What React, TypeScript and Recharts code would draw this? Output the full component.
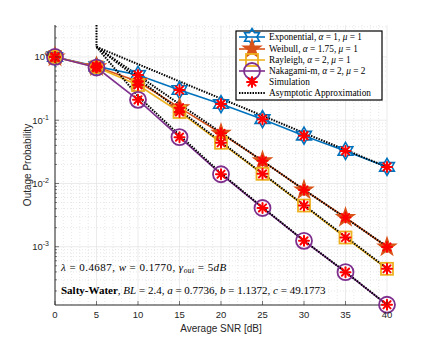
import React from "react"
import { ComposedChart, Line, XAxis, YAxis, CartesianGrid } from "recharts"

// average SNR in dB, one point every 5 dB
const snr = [0, 5, 10, 15, 20, 25, 30, 35, 40]

// analytical outage probability
const exponential = [1, 0.71, 0.52, 0.3, 0.18, 0.104, 0.057, 0.0327, 0.0183]
const weibull = [1, 0.7, 0.41, 0.158, 0.062, 0.0228, 0.0079, 0.0029, 0.00099]
const rayleigh = [1, 0.69, 0.36, 0.135, 0.044, 0.0142, 0.00448, 0.0014, 0.000448]
const nakagami = [1, 0.68, 0.21, 0.054, 0.014, 0.0041, 0.00124, 0.000397, 0.000121]

// monte carlo points sit on the analytical curves
const simExponential = exponential
const simWeibull = weibull
const simRayleigh = rayleigh
const simNakagami = nakagami

// high-SNR asymptotes, starting at 5 dB
const asymSnr = [5, 10, 15, 20, 25, 30, 35, 40]
const asymExponential = [1.44, 0.77, 0.41, 0.22, 0.118, 0.063, 0.034, 0.0182]
const asymWeibull = [1.44, 0.51, 0.18, 0.064, 0.0227, 0.008, 0.00285, 0.00101]
const asymRayleigh = [1.44, 0.455, 0.144, 0.0455, 0.0144, 0.00455, 0.00144, 0.000455]
const asymNakagami = [1.44, 0.24, 0.058, 0.0145, 0.0042, 0.00125, 0.0004, 0.000121]
// below 5 dB the asymptote leaves the plot
const asymEdgeSnr = [5, 5]
const asymEdge = [3.2, 1.44]

const xTicks = [0, 5, 10, 15, 20, 25, 30, 35, 40]
const yTicks = [1e-3, 1e-2, 1e-1, 1]
const yDomain = [1.2e-4, 3.2]

const BLUE = "#0072BD"
const ORANGE = "#D95319"
const YELLOW = "#EDB120"
const PURPLE = "#7E2F8E"
const RED = "#FF0000"
const AXIS = "#262626"

const toRows = (xs: number[], ys: number[]) => xs.map((x, i) => ({ snr: x, p: ys[i] }))

// minor grid / ticks
const xMinor: number[] = []
for (let i = 0; i <= 40; i++) if (i % 5 !== 0) xMinor.push(i)
const yMinor: number[] = []
for (let e = -4; e <= 0; e++) {
  for (let m = 2; m <= 9; m++) {
    const v = m * Math.pow(10, e)
    if (v > yDomain[0] && v < yDomain[1]) yMinor.push(v)
  }
}
const yAllTicks = [...yMinor, ...yTicks].sort((a, b) => a - b)

function starPoints(cx: number, cy: number, n: number, R: number, r: number) {
  const pts: string[] = []
  for (let k = 0; k < n * 2; k++) {
    const rad = k % 2 === 0 ? R : r
    const a = -Math.PI / 2 + (k * Math.PI) / n
    pts.push(`${(cx + rad * Math.cos(a)).toFixed(2)},${(cy + rad * Math.sin(a)).toFixed(2)}`)
  }
  return pts.join(" ")
}

const hexagram = (cx: number, cy: number, key?: any) => (
  <polygon key={key} points={starPoints(cx, cy, 6, 8.5, 4.9)} fill="none" stroke={BLUE} strokeWidth={1.6} />
)
const pentagram = (cx: number, cy: number, key?: any) => (
  <polygon key={key} points={starPoints(cx, cy, 5, 9.5, 3.7)} fill={ORANGE} stroke={ORANGE} strokeWidth={1.2} />
)
const square = (cx: number, cy: number, key?: any) => (
  <rect key={key} x={cx - 6} y={cy - 6} width={12} height={12} fill="none" stroke={YELLOW} strokeWidth={1.8} />
)
const circle = (cx: number, cy: number, key?: any) => (
  <circle key={key} cx={cx} cy={cy} r={8} fill="none" stroke={PURPLE} strokeWidth={1.8} />
)
const asterisk = (cx: number, cy: number, key?: any) => (
  <g key={key} stroke={RED} strokeWidth={2} strokeLinecap="round">
    <line x1={cx - 5} y1={cy} x2={cx + 5} y2={cy} />
    <line x1={cx} y1={cy - 5} x2={cx} y2={cy + 5} />
    <line x1={cx - 3.6} y1={cy - 3.6} x2={cx + 3.6} y2={cy + 3.6} />
    <line x1={cx - 3.6} y1={cy + 3.6} x2={cx + 3.6} y2={cy - 3.6} />
    <circle cx={cx} cy={cy} r={2.2} fill={RED} stroke="none" />
  </g>
)

const dotOf = (draw: (cx: number, cy: number, key?: any) => React.ReactElement) => (props: any) =>
  draw(props.cx, props.cy, `d-${props.index}`)

const supLabel = (v: number) => Math.round(Math.log10(v))

function BottomTick(props: any) {
  const { x, y, payload } = props
  return (
    <g>
      <line x1={x} x2={x} y1={y - 7} y2={y - 11} stroke={AXIS} strokeWidth={0.6} />
      <text x={x} y={y + 5.5} textAnchor="middle" fontSize={9.5} fill={AXIS} fontFamily="Liberation Sans, Arial, sans-serif">
        {payload.value}
      </text>
    </g>
  )
}

function TopTick(props: any) {
  const { x, y } = props
  return <line x1={x} x2={x} y1={y} y2={y + 4} stroke={AXIS} strokeWidth={0.6} />
}

function LeftTick(props: any) {
  const { x, y, payload } = props
  const major = yTicks.some((t) => Math.abs(t - payload.value) / t < 1e-6)
  return (
    <g>
      <line x1={x + 6} x2={x + 6 + (major ? 4 : 2)} y1={y} y2={y} stroke={AXIS} strokeWidth={0.6} />
      {major && (
        <text x={x} y={y + 3.5} textAnchor="end" fontSize={9.5} fill={AXIS} fontFamily="Liberation Sans, Arial, sans-serif">
          <tspan>10</tspan>
          <tspan dy={-4} fontSize={7}>{supLabel(payload.value)}</tspan>
        </text>
      )}
    </g>
  )
}

function RightTick(props: any) {
  const { x, y, payload } = props
  const major = yTicks.some((t) => Math.abs(t - payload.value) / t < 1e-6)
  return <line x1={x} x2={x - (major ? 4 : 2)} y1={y} y2={y} stroke={AXIS} strokeWidth={0.6} />
}

const SERIF = "Liberation Serif, 'Times New Roman', serif"

function Legend() {
  const left = 228
  const top = 23
  const rows = [29, 41, 52, 63, 74, 85]
  const sx1 = 231
  const sx2 = 257
  const mx = 244
  const tx = 261
  const fs = 9.3
  return (
    <g fontFamily={SERIF} fontSize={fs} fill="#000">
      <rect x={left} y={top} width={146} height={69} fill="#fff" stroke="#000" strokeWidth={1.2} />
      <line x1={sx1} x2={sx2} y1={rows[0]} y2={rows[0]} stroke={BLUE} strokeWidth={1.6} />
      {hexagram(mx, rows[0])}
      <line x1={sx1} x2={sx2} y1={rows[1]} y2={rows[1]} stroke={ORANGE} strokeWidth={1.6} />
      {pentagram(mx, rows[1])}
      <line x1={sx1} x2={sx2} y1={rows[2]} y2={rows[2]} stroke={YELLOW} strokeWidth={1.6} />
      {square(mx, rows[2])}
      <line x1={sx1} x2={sx2} y1={rows[3]} y2={rows[3]} stroke={PURPLE} strokeWidth={1.6} />
      {circle(mx, rows[3])}
      {asterisk(mx, rows[4])}
      <line x1={sx1} x2={sx2} y1={rows[5]} y2={rows[5]} stroke="#000" strokeWidth={2} strokeDasharray="1.5 1.2" />

      <text x={tx} y={rows[0] + 3}>
        Exponential, <tspan fontStyle="italic">α</tspan> = 1, <tspan fontStyle="italic">μ</tspan> = 1
      </text>
      <text x={tx} y={rows[1] + 3}>
        Weibull, <tspan fontStyle="italic">α</tspan> = 1.75, <tspan fontStyle="italic">μ</tspan> = 1
      </text>
      <text x={tx} y={rows[2] + 3}>
        Rayleigh, <tspan fontStyle="italic">α</tspan> = 2, <tspan fontStyle="italic">μ</tspan> = 1
      </text>
      <text x={tx} y={rows[3] + 3}>
        Nakagami-m, <tspan fontStyle="italic">α</tspan> = 2, <tspan fontStyle="italic">μ</tspan> = 2
      </text>
      <text x={tx} y={rows[4] + 3}>Simulation</text>
      <text x={tx} y={rows[5] + 3}>Asymptotic Approximation</text>
    </g>
  )
}

function Overlay() {
  return (
    <svg width={420} height={335} style={{ position: "absolute", left: 0, top: 0, pointerEvents: "none" }}>
      <text
        x={23}
        y={157}
        transform="rotate(-90 23 157)"
        textAnchor="middle"
        fontSize={10}
        fill={AXIS}
        fontFamily="Liberation Sans, Arial, sans-serif"
      >
        Outage Probability
      </text>
      <text x={213} y={323.5} textAnchor="middle" fontSize={10} fill={AXIS} fontFamily="Liberation Sans, Arial, sans-serif">
        Average SNR [dB]
      </text>

      <text x={53} y={263} fontFamily={SERIF} fontSize={11} fill="#000" letterSpacing={0.45}>
        <tspan fontStyle="italic">λ</tspan> = 0.4687, <tspan fontStyle="italic">w</tspan> = 0.1770,{" "}
        <tspan fontStyle="italic">γ</tspan>
        <tspan fontStyle="italic" fontSize={7.5} dy={2}>out</tspan>
        <tspan dy={-2}> = 5</tspan>
        <tspan fontStyle="italic">dB</tspan>
      </text>
      <text x={53} y={286} fontFamily={SERIF} fontSize={11} fill="#000">
        <tspan fontWeight="bold">Salty-Water</tspan>, <tspan fontStyle="italic">BL</tspan> = 2.4,{" "}
        <tspan fontStyle="italic">a</tspan> = 0.7736, <tspan fontStyle="italic">b</tspan> = 1.1372,{" "}
        <tspan fontStyle="italic">c</tspan> = 49.1773
      </text>

      <Legend />
    </svg>
  )
}

export default function App() {
  const theory = [
    { rows: toRows(snr, exponential), color: BLUE, marker: hexagram },
    { rows: toRows(snr, weibull), color: ORANGE, marker: pentagram },
    { rows: toRows(snr, rayleigh), color: YELLOW, marker: square },
    { rows: toRows(snr, nakagami), color: PURPLE, marker: circle },
  ]
  const sims = [simExponential, simWeibull, simRayleigh, simNakagami].map((s) => toRows(snr, s))
  const asym = [
    toRows(asymEdgeSnr, asymEdge),
    ...[asymExponential, asymWeibull, asymRayleigh, asymNakagami].map((s) => toRows(asymSnr, s)),
  ]

  return (
    <div style={{ position: "relative", width: 420, height: 335 }}>
      <ComposedChart width={420} height={335} margin={{ top: 17, right: 41, bottom: 0, left: 0 }}>
        <CartesianGrid horizontalValues={yMinor} verticalValues={xMinor} stroke="#d8d8d8" strokeDasharray="1 2" strokeWidth={0.6} />
        <CartesianGrid horizontalValues={yTicks} verticalValues={xTicks} stroke="#e3e3e3" strokeWidth={0.7} />
        <XAxis
          type="number"
          dataKey="snr"
          domain={[0, 40]}
          ticks={xTicks}
          interval={0}
          height={38}
          tickSize={0}
          tickMargin={7}
          tickLine={false}
          stroke={AXIS}
          tick={<BottomTick />}
        />
        <XAxis
          xAxisId="top"
          orientation="top"
          type="number"
          dataKey="snr"
          domain={[0, 40]}
          ticks={xTicks}
          interval={0}
          height={0}
          tickSize={0}
          tickMargin={0}
          tickLine={false}
          stroke={AXIS}
          tick={<TopTick />}
        />
        <YAxis
          scale="log"
          type="number"
          domain={yDomain}
          ticks={yAllTicks}
          interval={0}
          width={47}
          tickSize={0}
          tickMargin={6}
          tickLine={false}
          stroke={AXIS}
          tick={<LeftTick />}
        />
        <YAxis
          yAxisId="right"
          orientation="right"
          scale="log"
          type="number"
          domain={yDomain}
          ticks={yAllTicks}
          interval={0}
          width={0}
          tickSize={0}
          tickMargin={0}
          tickLine={false}
          stroke={AXIS}
          tick={<RightTick />}
        />

        {theory.map((s, i) => (
          <Line
            key={`t${i}`}
            data={s.rows}
            dataKey="p"
            stroke={s.color}
            strokeWidth={1.6}
            dot={dotOf(s.marker)}
            activeDot={false}
            isAnimationActive={false}
          />
        ))}
        {asym.map((rows, i) => (
          <Line
            key={`a${i}`}
            data={rows}
            dataKey="p"
            stroke="#000"
            strokeWidth={2}
            strokeDasharray="1.5 1.2"
            dot={false}
            activeDot={false}
            isAnimationActive={false}
          />
        ))}
        {sims.map((rows, i) => (
          <Line
            key={`s${i}`}
            data={rows}
            dataKey="p"
            stroke="none"
            strokeWidth={0}
            dot={dotOf(asterisk)}
            activeDot={false}
            isAnimationActive={false}
          />
        ))}
      </ComposedChart>
      <Overlay />
    </div>
  )
}
